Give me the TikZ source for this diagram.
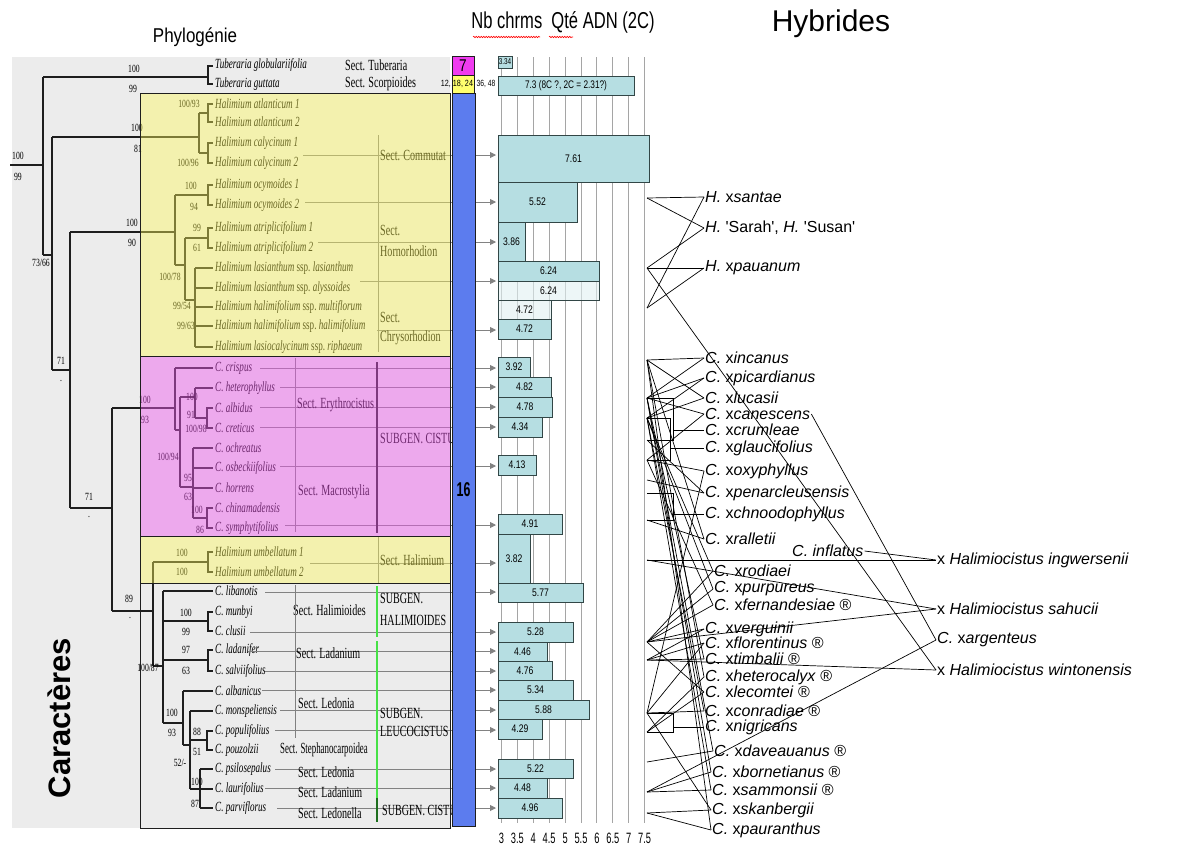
\documentclass[tikz,border=0pt]{standalone}
\usepackage{fontspec}
\setmainfont{Liberation Serif}
\setsansfont{Liberation Sans}
\usepackage{graphicx}
\usetikzlibrary{arrows.meta,decorations.pathmorphing}
\definecolor{bgray}{RGB}{236,236,236}
\definecolor{ovy}{RGB}{255,250,90}
\definecolor{ovp}{RGB}{240,90,240}
\definecolor{barfill}{RGB}{182,222,226}
\definecolor{barlite}{RGB}{225,240,242}
\definecolor{barline}{RGB}{50,70,70}
\definecolor{blueb}{RGB}{92,124,238}
\definecolor{mag}{RGB}{240,60,240}
\definecolor{ylw}{RGB}{255,255,110}
\definecolor{gridc}{RGB}{165,165,165}
\definecolor{arrc}{RGB}{130,130,130}
\definecolor{treec}{RGB}{30,30,30}
\definecolor{gline}{RGB}{70,225,70}
\definecolor{dgline}{RGB}{30,110,30}
\tikzset{
  tr/.style={draw=treec,line width=1.5pt},
  splab/.style={anchor=west,inner sep=0pt,font=\fontsize{14}{14}\selectfont\itshape},
  bslab/.style={inner sep=0pt,font=\fontsize{11}{11}\selectfont},
  sclab/.style={anchor=west,inner sep=0pt,font=\fontsize{15.5}{16}\selectfont},
  arrl/.style={draw=arrc,line width=0.9pt,-{Triangle[length=6pt,width=6pt]}},
  gridl/.style={draw=gridc,line width=1pt},
  barst/.style={fill=barfill,draw=barline,line width=0.9pt},
  barl/.style={inner sep=0pt,font=\sffamily\fontsize{11}{11}\selectfont},
  hy/.style={anchor=west,inner sep=1pt,font=\sffamily\fontsize{16}{16}\selectfont},
  hl/.style={draw=black,line width=0.7pt}
}
\newcommand\spl[3]{\node[splab] (#1) at (215,#2) {\scalebox{0.65}[1]{#3}};}
\newcommand\bsv[4]{\node[bslab] (#1) at (#2,#3) {\scalebox{0.7}[1]{#4}};}
\newcommand\sct[4]{\node[sclab] (#1) at (#2,#3) {\scalebox{0.65}[1]{#4}};}
\newcommand\brk[4]{\draw[tr] (213,#2) -- (#1,#2) -- (#1,#3) -- (213,#3); \coordinate (#4) at (#1,#2);}
\begin{document}
\begin{tikzpicture}[x=1pt,y=-1pt]
\useasboundingbox (0,0) rectangle (1183,849);
\fill[white] (0,0) rectangle (1183,849);
\fill[bgray] (12,57) rectangle (450,828);

% titles
\node[font=\sffamily\fontsize{20}{20}\selectfont] (tphy) at (195,37) {\scalebox{0.85}[1]{Phylogénie}};
\node[font=\sffamily\fontsize{23}{23}\selectfont] (tnb) at (563,22) {\scalebox{0.72}[1]{Nb chrms\ \ Qté ADN (2C)}};
\draw[red,line width=0.6pt,decorate,decoration={snake,amplitude=0.7pt,segment length=2.5pt}] (473,37) -- (540,37);
\draw[red,line width=0.6pt,decorate,decoration={snake,amplitude=0.7pt,segment length=2.5pt}] (549,37) -- (573,37);
\node[font=\sffamily\fontsize{30}{30}\selectfont] (thy) at (831,24) {Hybrides};
\node[rotate=90,font=\sffamily\bfseries\fontsize{31}{31}\selectfont] (car) at (59,718) {Caractères};

% grid of bar chart
\foreach \i in {0,...,9} \draw[gridl] ({501.5+15.9*\i},57) -- ({501.5+15.9*\i},823);

% ---------- tree ----------
\draw[tr] (10,165) -- (43,165);
\draw[tr] (43,77) -- (43,255);
\draw[tr] (43,77) -- (208,77);
\draw[tr] (43,255) -- (52,255);
\draw[tr] (52,137) -- (52,370);
\draw[tr] (52,137) -- (199,137);
\draw[tr] (52,370) -- (70,370);
\draw[tr] (199,113) -- (199,153);
\draw[tr] (199,113) -- (208,113);
\draw[tr] (199,153) -- (208,153);
\brk{208}{66}{84}{ntub}
\brk{208}{104}{122}{natl}
\brk{208}{143}{163}{ncal}
\draw[tr] (70,232) -- (70,508);
\draw[tr] (70,232) -- (175,232);
\draw[tr] (70,508) -- (112,508);
\draw[tr] (175,195) -- (175,265);
\draw[tr] (175,195) -- (208,195);
\brk{208}{185}{205}{nocy}
\draw[tr] (175,265) -- (185,265);
\draw[tr] (185,238) -- (185,300);
\draw[tr] (185,238) -- (208,238);
\brk{208}{228}{248}{natr}
\draw[tr] (185,300) -- (195,300);
\draw[tr] (195,268) -- (195,347);
\foreach \y in {268,288,307,326,347} \draw[tr] (195,\y) -- (213,\y);
% Cistus subgen Cistus
\draw[tr] (112,408) -- (112,611);
\draw[tr] (112,408) -- (175,408);
\draw[tr] (175,368) -- (175,430);
\draw[tr] (175,368) -- (213,368);
\draw[tr] (175,430) -- (180,430);
\draw[tr] (180,397) -- (180,487);
\draw[tr] (180,397) -- (195,397);
\draw[tr] (195,388) -- (195,418);
\draw[tr] (195,388) -- (213,388);
\draw[tr] (195,418) -- (207,418);
\brk{207}{408}{428}{nalb}
\draw[tr] (180,487) -- (193,487);
\draw[tr] (193,448) -- (193,518);
\foreach \y in {448,468,488} \draw[tr] (193,\y) -- (213,\y);
\draw[tr] (193,518) -- (207,518);
\brk{207}{508}{528}{nchi}
% lower part
\draw[tr] (112,611) -- (153,611);
\draw[tr] (153,562) -- (153,666);
\draw[tr] (153,562) -- (208,562);
\brk{208}{552}{572}{numb}
\draw[tr] (153,666) -- (163,666);
\draw[tr] (163,591) -- (163,723);
\draw[tr] (163,591) -- (213,591);
\draw[tr] (163,621) -- (208,621);
\brk{208}{612}{631}{nmun}
\draw[tr] (163,660) -- (208,660);
\brk{208}{650}{671}{nlad}
\draw[tr] (163,723) -- (183,723);
\draw[tr] (183,691) -- (183,745);
\draw[tr] (183,691) -- (213,691);
\draw[tr] (183,745) -- (190,745);
\draw[tr] (190,711) -- (190,789);
\draw[tr] (190,711) -- (213,711);
\draw[tr] (190,740) -- (207,740);
\brk{207}{731}{750}{npop}
\draw[tr] (190,789) -- (200,789);
\draw[tr] (200,769) -- (200,808);
\foreach \y in {769,789,808} \draw[tr] (200,\y) -- (213,\y);

% species
\spl{s1}{65}{Tuberaria globulariifolia}
\spl{s2}{84}{Tuberaria guttata}
\spl{s3}{104}{Halimium atlanticum 1}
\spl{s4}{122}{Halimium atlanticum 2}
\spl{s5}{143}{Halimium calycinum 1}
\spl{s6}{163}{Halimium calycinum 2}
\spl{s7}{185}{Halimium ocymoides 1}
\spl{s8}{205}{Halimium ocymoides 2}
\spl{s9}{228}{Halimium atriplicifolium 1}
\spl{s10}{248}{Halimium atriplicifolium 2}
\spl{s11}{268}{Halimium lasianthum \upshape ssp.\itshape\ lasianthum}
\spl{s12}{288}{Halimium lasianthum \upshape ssp.\itshape\ alyssoides}
\spl{s13}{307}{Halimium halimifolium \upshape ssp.\itshape\ multiflorum}
\spl{s14}{326}{Halimium halimifolium \upshape ssp.\itshape\ halimifolium}
\spl{s15}{347}{Halimium lasiocalycinum \upshape ssp.\itshape\ riphaeum}
\spl{s16}{368}{C. crispus}
\spl{s17}{388}{C. heterophyllus}
\spl{s18}{408}{C. albidus}
\spl{s19}{428}{C. creticus}
\spl{s20}{448}{C. ochreatus}
\spl{s21}{468}{C. osbeckiifolius}
\spl{s22}{488}{C. horrens}
\spl{s23}{508}{C. chinamadensis}
\spl{s24}{528}{C. symphytifolius}
\spl{s25}{552}{Halimium umbellatum 1}
\spl{s26}{572}{Halimium umbellatum 2}
\spl{s27}{591}{C. libanotis}
\spl{s28}{612}{C. munbyi}
\spl{s29}{631}{C. clusii}
\spl{s30}{650}{C. ladanifer}
\spl{s31}{671}{C. salviifolius}
\spl{s32}{691}{C. albanicus}
\spl{s33}{711}{C. monspeliensis}
\spl{s34}{731}{C. populifolius}
\spl{s35}{750}{C. pouzolzii}
\spl{s36}{769}{C. psilosepalus}
\spl{s37}{789}{C. laurifolius}
\spl{s38}{808}{C. parviflorus}

% support values
\bsv{v1}{18}{156}{100}
\bsv{v2}{18}{177}{99}
\bsv{v3}{134}{69}{100}
\bsv{v4}{133}{89}{99}
\bsv{v5}{137}{128}{100}
\bsv{v6}{138}{149}{81}
\bsv{v7}{189}{104}{100/93}
\bsv{v8}{188}{163}{100/96}
\bsv{v9}{41}{263}{73/66}
\bsv{v10}{61}{361}{71}
\bsv{v11}{61}{381}{.}
\bsv{v12}{132}{223}{100}
\bsv{v13}{132}{243}{90}
\bsv{v14}{191}{186}{100}
\bsv{v15}{194}{207}{94}
\bsv{v16}{197}{228}{99}
\bsv{v17}{197}{248}{61}
\bsv{v18}{170}{277}{100/78}
\bsv{v19}{182}{306}{99/54}
\bsv{v20}{186}{326}{99/63}
\bsv{v21}{89}{497}{71}
\bsv{v22}{89}{517}{.}
\bsv{v23}{145}{400}{100}
\bsv{v24}{145}{420}{93}
\bsv{v25}{192}{397}{100}
\bsv{v26}{191}{415}{91}
\bsv{v27}{196}{429}{100/98}
\bsv{v28}{168}{457}{100/94}
\bsv{v29}{188}{478}{95}
\bsv{v30}{188}{497}{63}
\bsv{v31}{197}{510}{100}
\bsv{v32}{200}{530}{86}
\bsv{v33}{182}{553}{100}
\bsv{v34}{182}{572}{100}
\bsv{v35}{129}{599}{89}
\bsv{v36}{130}{618}{.}
\bsv{v37}{186}{613}{100}
\bsv{v38}{186}{632}{99}
\bsv{v39}{186}{650}{97}
\bsv{v40}{186}{671}{63}
\bsv{v41}{148}{668}{100/87}
\bsv{v42}{172}{713}{100}
\bsv{v43}{172}{733}{93}
\bsv{v44}{197}{732}{88}
\bsv{v45}{197}{752}{51}
\bsv{v46}{180}{763}{52/-}
\bsv{v47}{197}{782}{100}
\bsv{v48}{195}{804}{87}

% arrows to the bars
\foreach \y/\xs in {155/303,202/305,242/318,281/360,330/377,368/260,387/280,407/260,427/260,466/280,525/285,563/310,592/265,632/250,651/248,671/265,690/262,710/280,730/275,769/275,788/265,808/277}
  \draw[arrl] (\xs,\y) -- (496,\y);

% section labels
\sct{x1}{345}{65}{Sect. Tuberaria}
\sct{x2}{345}{84}{Sect. Scorpioides}
\sct{x3}{380}{155}{Sect. Commutat}
\sct{x4}{380}{230}{Sect.}
\sct{x5}{380}{251}{Hornorhodion}
\sct{x6}{380}{317}{Sect.}
\sct{x7}{380}{338}{Chrysorhodion}
\sct{x8}{297}{405}{Sect. Erythrocistus}
\sct{x9}{380}{438}{SUBGEN. CISTUS}
\sct{x10}{298}{492}{Sect. Macrostylia}
\sct{x11}{380}{560}{Sect. Halimium}
\sct{x12}{293}{610}{Sect. Halimioides}
\sct{x13}{380}{598}{SUBGEN.}
\sct{x14}{380}{620}{HALIMIOIDES}
\sct{x15}{296}{653}{Sect. Ladanium}
\sct{x16}{298}{703}{Sect. Ledonia}
\sct{x17}{380}{713}{SUBGEN.}
\sct{x18}{380}{731}{LEUCOCISTUS}
\node[sclab] (x19) at (280,750) {\scalebox{0.57}[1]{Sect. Stephanocarpoidea}};
\sct{x20}{298}{772}{Sect. Ledonia}
\sct{x21}{298}{792}{Sect. Ladanium}
\sct{x22}{298}{813}{Sect. Ledonella}
\sct{x23}{382}{810}{SUBGEN. CISTUS}

% dividers under overlays
\draw[draw=gray,line width=0.7pt] (378,135) -- (378,352);
\draw[draw=gray,line width=0.7pt] (295,358) -- (295,532);
\draw[draw=treec,line width=1.5pt] (377,362) -- (377,533);
\draw[draw=gray,line width=0.7pt] (378,537) -- (378,583);
\draw[draw=gray,line width=0.7pt] (295,585) -- (295,738);

% coloured overlays
\fill[ovy,fill opacity=0.42] (140,93) rectangle (450,356);
\fill[ovp,fill opacity=0.46] (140,356) rectangle (450,536);
\fill[ovy,fill opacity=0.42] (140,536) rectangle (450,583);
\draw[draw=treec,line width=1pt] (140,93) rectangle (450,828);
\draw[draw=treec,line width=1pt] (140,356) -- (450,356);
\draw[draw=treec,line width=1pt] (140,536) -- (450,536);
\draw[draw=treec,line width=1pt] (140,583) -- (450,583);
\draw[draw=gline,line width=1.4pt] (377,586) -- (377,637);
\draw[draw=gline,line width=1.4pt] (377,641) -- (377,800);
\draw[draw=dgline,line width=1.8pt] (377,798) -- (377,822);

% chromosome column
\filldraw[fill=blueb,draw=treec,line width=0.8pt] (452,93) rectangle (475,826);
\node[font=\sffamily\bfseries\fontsize{20}{20}\selectfont] (n16) at (463.5,490) {\scalebox{0.62}[1]{16}};
\filldraw[fill=mag,draw=treec,line width=0.8pt] (452,56) rectangle (474,75);
\node[font=\sffamily\fontsize{17}{17}\selectfont] (n7) at (463,65.5) {\scalebox{0.8}[1]{7}};
\filldraw[fill=ylw,draw=treec,line width=0.8pt] (452,75) rectangle (474,93);
\node[font=\sffamily\fontsize{9}{9}\selectfont,inner sep=0pt] (n18) at (463,84) {\scalebox{0.8}[1]{18, 24}};
\node[font=\sffamily\fontsize{9}{9}\selectfont,inner sep=0pt,anchor=east] (n12) at (451,84) {\scalebox{0.8}[1]{12,}};
\node[font=\sffamily\fontsize{9}{9}\selectfont,inner sep=0pt] (n36) at (486,84) {\scalebox{0.75}[1]{36, 48}};

% bars
\filldraw[barst] (498,56) rectangle (512,68);
\node[barl,font=\sffamily\fontsize{8.5}{8.5}\selectfont] (bar0) at (505,62) {\scalebox{0.75}[1]{3.34}};
\filldraw[barst] (498,76) rectangle (634,95);
\node[barl] (bar00) at (566,85.5) {\scalebox{0.75}[1]{7.3 (8C ?, 2C = 2.31?)}};
\foreach \ya/\yb/\xr/\lab [count=\n] in {135/182/649/7.61,182/222/577/5.52,222/261/525/3.86,261/281/599/6.24,319/339/551/4.72,357/377/530/3.92,377/397/551/4.82,397/417/552/4.78,417/437/542/4.34,455/475/536/4.13,514/534/562/4.91,534/583/530/3.82,583/602/583/5.77,622/642/573/5.28,642/661/547/4.46,661/680/552/4.76,680/700/573/5.34,700/719/589/5.88,719/739/542/4.29,759/778/573/5.22,778/798/547/4.48,798/818/562/4.96}
{
  \filldraw[barst] (498,\ya) rectangle (\xr,\yb);
  \node[barl] (bar\n) at ({(498+\xr)/2},{(\ya+\yb)/2}) {\scalebox{0.78}[1]{\lab}};
}
\filldraw[fill=barlite,fill opacity=0.6,draw=barline,line width=0.9pt] (498,281) rectangle (599,300);
\node[barl] (barL1) at (548.5,290.5) {\scalebox{0.78}[1]{6.24}};
\filldraw[fill=barlite,fill opacity=0.6,draw=barline,line width=0.9pt] (498,300) rectangle (551,319);
\node[barl] (barL2) at (524.5,309.5) {\scalebox{0.78}[1]{4.72}};

% axis labels
\foreach \v [count=\i from 0] in {3,3.5,4,4.5,5,5.5,6,6.5,7,7.5}
  \node[font=\sffamily\fontsize{15}{15}\selectfont,inner sep=0pt] (tk\i) at ({501.5+15.9*\i},838) {\scalebox{0.62}[1]{\v}};

% ---------- hybrids ----------
\foreach \nm/\yy in {ocy/198,las/268,hal/308,cri/360,alb/398,cre/418,och/440,osb/460,hor/480,chi/493,sym/520,umb/560,lad/642,sal/660,mon/713,pop/732,psi/762,lau/792,par/813}
  \coordinate (p\nm) at (647,\yy);

\node[hy] (h1) at (704,197) {\textit{H.} x\textit{santae}};
\node[hy] (h2) at (704,228) {\textit{H.} \textquotesingle Sarah\textquotesingle, \textit{H.} \textquotesingle Susan\textquotesingle};
\node[hy] (h3) at (704,268) {\textit{H.} x\textit{pauanum}};
\node[hy] (c1) at (704,358) {\textit{C.} x\textit{incanus}};
\node[hy] (c2) at (704,378) {\textit{C.} x\textit{picardianus}};
\node[hy] (c3) at (704,398) {\textit{C.} x\textit{lucasii}};
\node[hy] (c4) at (704,414) {\textit{C.} x\textit{canescens}};
\node[hy] (c5) at (704,430) {\textit{C.} x\textit{crumleae}};
\node[hy] (c6) at (704,448) {\textit{C.} x\textit{glaucifolius}};
\node[hy] (c7) at (704,471) {\textit{C.} x\textit{oxyphyllus}};
\node[hy] (c8) at (704,493) {\textit{C.} x\textit{penarcleusensis}};
\node[hy] (c9) at (704,514) {\textit{C.} x\textit{chnoodophyllus}};
\node[hy] (c10) at (704,539) {\textit{C.} x\textit{ralletii}};
\node[hy] (cinf) at (791,551) {\textit{C. inflatus}};
\node[hy] (hing) at (936,560) {x \textit{Halimiocistus ingwersenii}};
\node[hy] (c11) at (713,571) {\textit{C.} x\textit{rodiaei}};
\node[hy] (c12) at (713,589) {\textit{C.} x\textit{purpureus}};
\node[hy] (c13) at (713,605) {\textit{C.} x\textit{fernandesiae} ®};
\node[hy] (hsah) at (936,609) {x \textit{Halimiocistus sahucii}};
\node[hy] (c14) at (704,629) {\textit{C.} x\textit{verguinii}};
\node[hy] (c15) at (704,643) {\textit{C.} x\textit{florentinus} ®};
\node[hy] (harg) at (936,640) {\textit{C.} x\textit{argenteus}};
\node[hy] (c16) at (704,659) {\textit{C.} x\textit{timbalii} ®};
\node[hy] (c17) at (704,677) {\textit{C.} x\textit{heterocalyx} ®};
\node[hy] (hwin) at (936,670) {x \textit{Halimiocistus wintonensis}};
\node[hy] (c18) at (704,692) {\textit{C.} x\textit{lecomtei} ®};
\node[hy] (c19) at (704,711) {\textit{C.} x\textit{conradiae} ®};
\node[hy] (c20) at (704,727) {\textit{C.} x\textit{nigricans}};
\node[hy] (c21) at (713,751) {\textit{C.} x\textit{daveauanus} ®};
\node[hy] (c22) at (711,772) {\textit{C.} x\textit{bornetianus} ®};
\node[hy] (c23) at (711,790) {\textit{C.} x\textit{sammonsii} ®};
\node[hy] (c24) at (711,810) {\textit{C.} x\textit{skanbergii}};
\node[hy] (c25) at (711,830) {\textit{C.} x\textit{pauranthus}};

% Halimium hybrids
\draw[hl] (pocy) -- (h1.west);
\draw[hl] (phal) -- (h1.west);
\draw[hl] (pocy) -- (h2.west);
\draw[hl] (plas) -- (h2.west);
\draw[hl] (plas) -- (h3.west);
\draw[hl] (phal) -- (h3.west);
\draw[hl] (plas) -- (hwin.west);
\draw[hl] (psal) -- (hwin.west);
% Cistus hybrids
\foreach \a/\h in {cri/c1,alb/c1,alb/c2,cre/c2,cri/c3,cre/c3,alb/c4,osb/c4,osb/c7,mon/c7,hor/c8,och/c8,sym/c10,cri/c10,cre/c11,lad/c11,cre/c12,lad/c12,osb/c13,lad/c13,lad/c14,sal/c14,sal/c15,mon/c15,alb/c16,sal/c16,cri/c17,pop/c17,lad/c18,pop/c18,cre/c19,mon/c19,psi/c21,alb/c21,lau/c22,alb/c22,lau/c23,cre/c23,mon/c24,par/c24,par/c25,cri/c25,umb/hsah,lad/hsah,lau/harg}
  \draw[hl] (p\a) -- (\h.west);
\draw[hl] (palb) -- (673,398) -- (673,440) -- (poch);
\draw[hl] (673,430) -- (c5.west);
\draw[hl] (pcre) -- (670,418) -- (670,460) -- (posb);
\draw[hl] (670,448) -- (c6.west);
\draw[hl] (pchi) -- (673,493) -- (673,520) -- (psym);
\draw[hl] (673,514) -- (c9.west);
\draw[hl] (pmon) -- (673,713) -- (673,732) -- (ppop);
\draw[hl] (673,727) -- (c20.west);
\draw[hl] (pumb) -- (hing.west);
\draw[hl] (cinf.east) -- (hing.west);
\draw[hl] (c4.east) -- (harg.west);
\end{tikzpicture}
\end{document}
